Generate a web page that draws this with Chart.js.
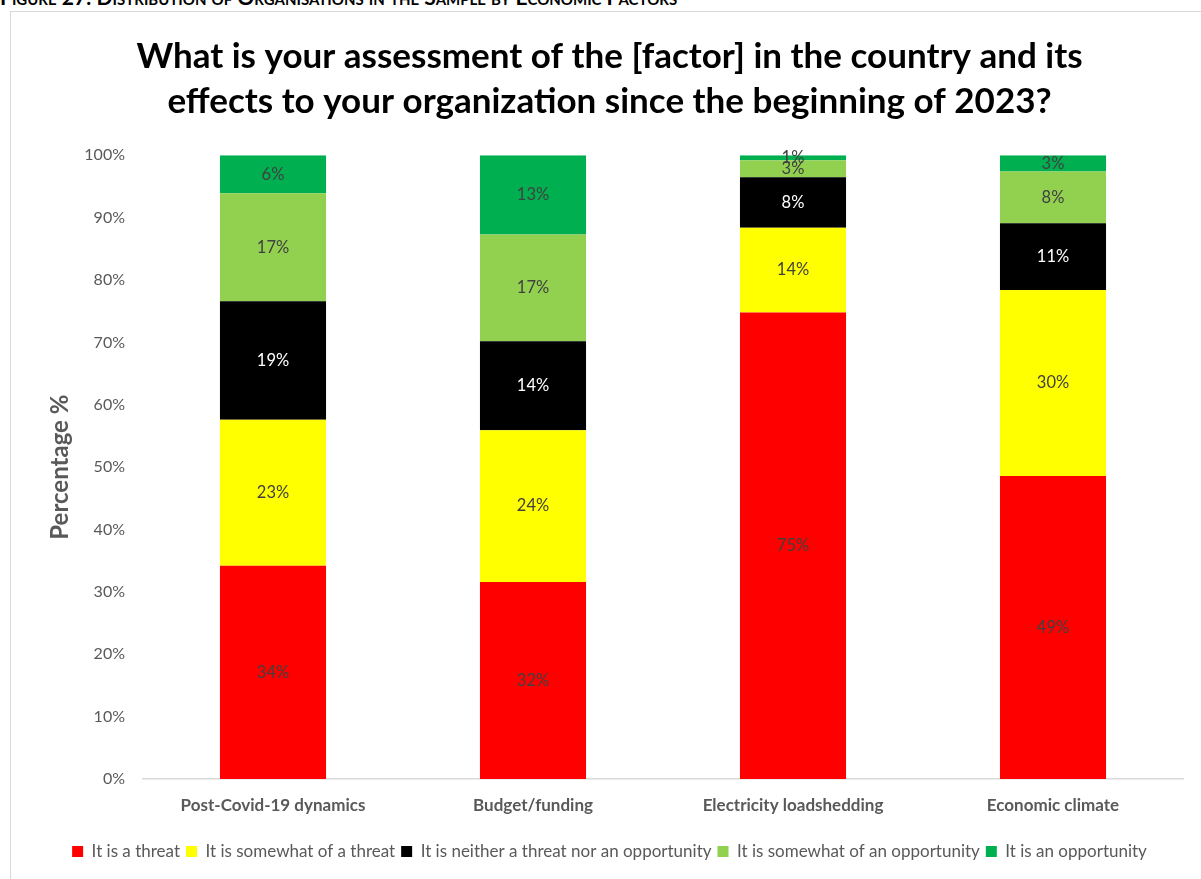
<!DOCTYPE html>
<html>
<head>
<meta charset="utf-8">
<title>Economic factors</title>
<script src="https://cdn.jsdelivr.net/npm/chart.js@4.4.0/dist/chart.umd.min.js"></script>
<style>
  body { margin: 0; overflow: hidden; background: #fff; font-family: Lato, "Liberation Sans", sans-serif; }
  .caption { position: absolute; left: 0; top: -15px; font-size: 21px; line-height: 24px; font-weight: bold; font-variant: small-caps; white-space: nowrap; color: #000; }
  .frame { position: absolute; left: 10px; top: 11px; width: 1205px; height: 870px; border: 1px solid #d9d9d9; }
  canvas { display: block; }
</style>
</head>
<body>
<div class="caption">Figure 27: Distribution of Organisations in the Sample by Economic Factors</div>
<div class="frame"><canvas id="chart-factores" width="1205" height="868"></canvas></div>
<script>
var categories = ["Post-Covid-19 dynamics", "Budget/funding", "Electricity loadshedding", "Economic climate"];
var threat = [34.2, 31.6, 74.8, 48.6];
var somewhatThreat = [23.4, 24.3, 13.6, 29.8];
var neither = [19.0, 14.3, 8.1, 10.7];
var somewhatOpportunity = [17.3, 17.1, 2.7, 8.3];
var opportunity = [6.1, 12.7, 0.8, 2.6];
var yTicks = ["0%", "10%", "20%", "30%", "40%", "50%", "60%", "70%", "80%", "90%", "100%"];

var fontFamily = 'Lato, "Liberation Sans", sans-serif';
var greyText = '#595959';

// percentage written in the middle of every segment
const barLabels = {
  id: 'barLabels',
  afterDatasetsDraw(chart) {
    const ctx = chart.ctx;
    ctx.save();
    ctx.font = '16.5px ' + fontFamily;
    ctx.textAlign = 'center';
    ctx.textBaseline = 'middle';
    chart.data.datasets.forEach((ds, i) => {
      chart.getDatasetMeta(i).data.forEach((bar, j) => {
        ctx.fillStyle = ds.labelColor;
        ctx.fillText(Math.round(ds.data[j]) + '%', bar.x, (bar.y + bar.base) / 2);
      });
    });
    ctx.restore();
  }
};

function serie(label, data, color, labelColor) {
  return {
    label: label,
    data: data,
    backgroundColor: color,
    labelColor: labelColor,
    borderWidth: 0,
    categoryPercentage: 1,
    barPercentage: 0.408
  };
}

new Chart("chart-factores", {
  type: "bar",
  data: {
    labels: categories,
    datasets: [
      serie("It is a threat", threat, "#FF0000", "#404040"),
      serie("It is somewhat of a threat", somewhatThreat, "#FFFF00", "#404040"),
      serie("It is neither a threat nor an opportunity", neither, "#000000", "#FFFFFF"),
      serie("It is somewhat of an opportunity", somewhatOpportunity, "#92D050", "#404040"),
      serie("It is an opportunity", opportunity, "#00B050", "#404040")
    ]
  },
  options: {
    responsive: false,
    animation: false,
    layout: { padding: { left: 25, right: 33, top: 0, bottom: 10 } },
    plugins: {
      title: {
        display: true,
        text: ["What is your assessment of the [factor] in the country and its",
               "effects to your organization since the beginning of 2023?"],
        color: '#000',
        font: { family: fontFamily, size: 35, weight: 'bold', lineHeight: 1.29 },
        padding: { top: 22, bottom: 31 }
      },
      legend: {
        position: 'bottom',
        labels: {
          boxWidth: 11,
          boxHeight: 11,
          padding: 6,
          color: greyText,
          font: { family: fontFamily, size: 17 }
        }
      },
      tooltip: { enabled: false }
    },
    scales: {
      x: {
        stacked: true,
        grid: { display: false },
        border: { color: '#d9d9d9', width: 1.5 },
        ticks: { color: greyText, padding: 8, font: { family: fontFamily, size: 17, weight: 'bold' } },
        afterFit(scale) { scale.height = 58; }
      },
      y: {
        stacked: true,
        min: 0,
        max: 100,
        grid: { display: false, drawTicks: false },
        border: { display: false },
        ticks: {
          stepSize: 10,
          padding: 18,
          color: greyText,
          font: { family: fontFamily, size: 16 },
          callback: (v, i) => yTicks[i]
        },
        title: {
          display: true,
          text: "Percentage %",
          color: greyText,
          font: { family: fontFamily, size: 24, weight: 'bold' },
          padding: { top: 10 }
        },
        afterFit(scale) { scale.width = 107; }
      }
    }
  },
  plugins: [barLabels]
});
</script>
</body>
</html>
